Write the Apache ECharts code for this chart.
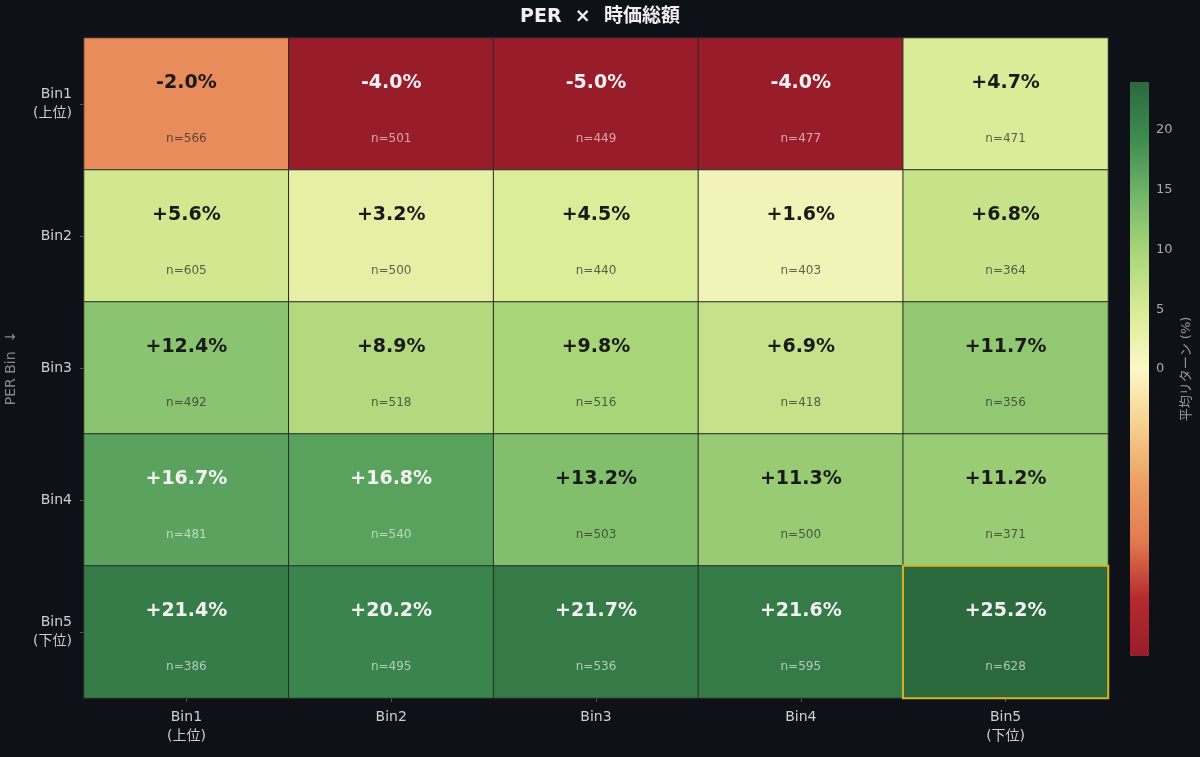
<!DOCTYPE html>
<html>
<head>
<meta charset="utf-8">
<script src="https://cdn.jsdelivr.net/npm/echarts@6/dist/echarts.min.js"></script>
<style>
  html, body { margin: 0; padding: 0; background: #0e1117; }
  #main { width: 1200px; height: 757px; }
</style>
</head>
<body>
<div id="main"></div>
<script>
// PER bin (rows) x 時価総額 bin (cols)
var xBins = ['Bin1\n(上位)', 'Bin2', 'Bin3', 'Bin4', 'Bin5\n(下位)'];
var yBins = ['Bin1\n(上位)', 'Bin2', 'Bin3', 'Bin4', 'Bin5\n(下位)'];
var returns = [
    [-2.0, -4.0, -5.0, -4.0, 4.7],
    [5.6, 3.2, 4.5, 1.6, 6.8],
    [12.4, 8.9, 9.8, 6.9, 11.7],
    [16.7, 16.8, 13.2, 11.3, 11.2],
    [21.4, 20.2, 21.7, 21.6, 25.2]
];
var counts = [
    [566, 501, 449, 477, 471],
    [605, 500, 440, 403, 364],
    [492, 518, 516, 418, 356],
    [481, 540, 503, 500, 371],
    [386, 495, 536, 595, 628]
];
var cbarTicks = [0, 5, 10, 15, 20];

// two-slope norm: vmin .. 0 .. vmax
var vmin = -4, vmax = 24;
function norm(v) {
    var t = v < 0 ? 0.5 + 0.5 * v / -vmin : 0.5 + 0.5 * v / vmax;
    return Math.max(0, Math.min(1, t));
}

var palette = ['#991c2b', '#b52a2e', '#e27a4e', '#ec9e66', '#f6cf8c', '#fdf8c6',
    '#d9ec96', '#abd67a', '#74b769', '#3e8c51', '#2c693d'];

var FONT = 'DejaVu Sans, Noto Sans CJK JP';

var best = -Infinity;
returns.forEach(function(r) { r.forEach(function(v) { if (v > best) best = v; }); });

var cells = [];
for (var i = 0; i < yBins.length; i++) {
    for (var j = 0; j < xBins.length; j++) {
        var v = returns[i][j];
        var item = { value: [j, i, norm(v), v, counts[i][j]] };
        if (v === best) {
            item.itemStyle = { borderColor: '#d9b422', borderWidth: 2 };
        }
        cells.push(item);
    }
}

var myChart = echarts.init(document.getElementById('main'));

var option = {
    backgroundColor: '#0e1117',
    textStyle: { fontFamily: FONT },
    title: {
        text: 'PER  ×  時価総額',
        left: 'center',
        top: 3,
        textStyle: { color: '#f0f0f0', fontSize: 19, fontWeight: 'bold', fontFamily: FONT }
    },
    grid: [
        { left: 84, right: 92, top: 38, bottom: 59, outerBoundsMode: 'none', containLabel: false },
        { left: 1130, top: 82, width: 19, height: 287, outerBoundsMode: 'none', containLabel: false }
    ],
    xAxis: [{
        type: 'category',
        data: xBins,
        axisLine: { show: false },
        axisTick: { show: true, length: 4, alignWithLabel: true, lineStyle: { color: '#555' } },
        axisLabel: { color: '#cfcfcf', fontSize: 14, lineHeight: 19, margin: 10 },
        splitLine: { show: false }
    }, {
        gridIndex: 1,
        type: 'value',
        show: false
    }],
    yAxis: [{
        type: 'category',
        data: yBins,
        inverse: true,
        name: 'PER Bin  ↓',
        nameLocation: 'middle',
        nameRotate: 90,
        nameGap: 66,
        nameTextStyle: { color: '#888', fontSize: 14 },
        axisLine: { show: false },
        axisTick: { show: true, length: 4, alignWithLabel: true, lineStyle: { color: '#555' } },
        axisLabel: { color: '#cfcfcf', fontSize: 14, lineHeight: 19, margin: 12 },
        splitLine: { show: false }
    }, {
        gridIndex: 1,
        type: 'value',
        min: 0,
        max: 24,
        position: 'right',
        axisLine: { show: false },
        splitLine: { show: false },
        axisTick: { show: true, length: 4, lineStyle: { color: '#999' }, customValues: cbarTicks },
        axisLabel: { color: '#aaa', fontSize: 13, margin: 7, customValues: cbarTicks }
    }],
    visualMap: {
        type: 'continuous',
        seriesIndex: 0,
        dimension: 2,
        min: 0,
        max: 1,
        calculable: false,
        hoverLink: false,
        orient: 'vertical',
        left: 1130,
        top: 82,
        padding: 0,
        itemWidth: 19,
        itemHeight: 574,
        inRange: { color: palette }
    },
    graphic: [{
        type: 'text',
        x: 1187,
        y: 369,
        rotation: Math.PI / 2,
        style: {
            text: '平均リターン (%)',
            fill: '#999',
            fontSize: 13,
            fontFamily: FONT,
            align: 'center',
            verticalAlign: 'middle'
        }
    }],
    series: [{
        type: 'heatmap',
        data: cells,
        itemStyle: { borderColor: '#2a2a2a', borderWidth: 1 },
        emphasis: { disabled: true },
        label: {
            show: true,
            offset: [0, 2],
            formatter: function(p) {
                var v = p.data.value[3], n = p.data.value[4];
                var light = v >= 15 || v <= -3;
                var txt = (v > 0 ? '+' : '') + v.toFixed(1) + '%';
                return '{' + (light ? 'vw' : 'vd') + '|' + txt + '}\n{' + (light ? 'nw' : 'nd') + '|n=' + n + '}';
            },
            rich: {
                vd: { fontSize: 19, fontWeight: 'bold', color: '#1a1a1a', lineHeight: 66 },
                vw: { fontSize: 19, fontWeight: 'bold', color: '#f2f2f2', lineHeight: 66 },
                nd: { fontSize: 12, color: 'rgba(40,40,40,0.72)', lineHeight: 46 },
                nw: { fontSize: 12, color: 'rgba(255,255,255,0.6)', lineHeight: 46 }
            }
        }
    }]
};

myChart.setOption(option);
</script>
</body>
</html>
